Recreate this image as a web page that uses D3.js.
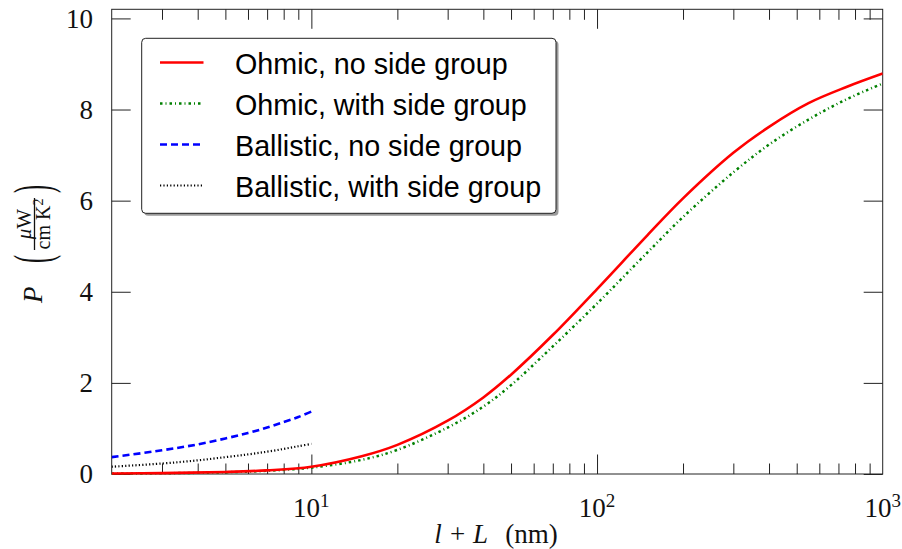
<!DOCTYPE html>
<html>
<head>
<meta charset="utf-8">
<script src="https://cdn.jsdelivr.net/npm/d3@7"></script>
<style>
  body { margin: 0; background: #fff; }
  svg { display: block; }
</style>
</head>
<body>
<svg id="chart" width="902" height="549"></svg>
<script>
// Power factor P versus total length l + L (nm)
const lengthOhmic = [2, 3, 5, 7, 10, 15, 20, 30, 40, 50, 70, 100, 150, 200, 300, 400, 550, 750, 1000];
const ohmicNoSide = [0.01, 0.02, 0.045, 0.08, 0.16, 0.39, 0.64, 1.17, 1.68, 2.18, 3.05, 4.06, 5.24, 6.05, 7.05, 7.62, 8.14, 8.5, 8.79];
const ohmicSide   = [0.008, 0.016, 0.038, 0.07, 0.14, 0.31, 0.53, 1.02, 1.48, 1.95, 2.8, 3.74, 4.86, 5.64, 6.62, 7.23, 7.78, 8.23, 8.57];

const lengthBallistic = [2, 3, 4, 5, 6, 7, 8, 9, 10];
const ballisticNoSide = [0.37, 0.52, 0.65, 0.78, 0.90, 1.02, 1.14, 1.25, 1.37];
const ballisticSide   = [0.16, 0.23, 0.30, 0.37, 0.43, 0.49, 0.55, 0.61, 0.66];

const seriesNames = ["Ohmic, no side group", "Ohmic, with side group",
                     "Ballistic, no side group", "Ballistic, with side group"];

const yTickValues = [0, 2, 4, 6, 8, 10];
const xMajorTicks = [10, 100, 1000];
const xMajorExponents = ["1", "2", "3"];
const xMinorTicks = [3, 4, 5, 6, 7, 8, 9, 20, 30, 40, 50, 60, 70, 80, 90,
                     200, 300, 400, 500, 600, 700, 800, 900];

// layout
const plot = { left: 111.7, right: 882.7, top: 9.3, bottom: 474 };
const serif = "'Liberation Serif', 'DejaVu Serif', serif";
const sans = "'Liberation Sans', Arial, sans-serif";

const svg = d3.select("#chart");

const x = d3.scaleLog().domain([2, 1000]).range([plot.left, plot.right]);
const y = d3.scaleLinear().domain([0, 10.2]).range([plot.bottom, plot.top]);

// series definitions with their line styles
const series = [
  { name: seriesNames[0], xs: lengthOhmic, ys: ohmicNoSide, color: "#ff0000", width: 2.6, dash: null },
  { name: seriesNames[1], xs: lengthOhmic, ys: ohmicSide, color: "#008000", width: 2.5, dash: "2.5,3,1,3" },
  { name: seriesNames[2], xs: lengthBallistic, ys: ballisticNoSide, color: "#0000ff", width: 2.6, dash: "7,4" },
  { name: seriesNames[3], xs: lengthBallistic, ys: ballisticSide, color: "#000000", width: 2.2, dash: "1.2,2.2" }
];

// axes: ticks point inward on all four sides
const axisColor = "#222";
function styleAxis(g) {
  g.select(".domain").remove();
  g.selectAll(".tick line").attr("stroke", axisColor).attr("stroke-width", 1);
  g.selectAll(".tick text").remove();
}

svg.append("g").attr("transform", `translate(0,${plot.bottom})`)
  .call(d3.axisBottom(x).tickValues(xMinorTicks).tickSize(-10.5)).call(styleAxis);
svg.append("g").attr("transform", `translate(0,${plot.bottom})`)
  .call(d3.axisBottom(x).tickValues(xMajorTicks.slice(0, 2)).tickSize(-19.5)).call(styleAxis);
svg.append("g").attr("transform", `translate(0,${plot.top})`)
  .call(d3.axisTop(x).tickValues(xMinorTicks).tickSize(-10.5)).call(styleAxis);
svg.append("g").attr("transform", `translate(0,${plot.top})`)
  .call(d3.axisTop(x).tickValues(xMajorTicks.slice(0, 2)).tickSize(-19.5)).call(styleAxis);
svg.append("g").attr("transform", `translate(${plot.left},0)`)
  .call(d3.axisLeft(y).tickValues(yTickValues).tickSize(-19)).call(styleAxis);
svg.append("g").attr("transform", `translate(${plot.right},0)`)
  .call(d3.axisRight(y).tickValues(yTickValues).tickSize(-19)).call(styleAxis);

// frame
svg.append("rect")
  .attr("x", plot.left).attr("y", plot.top)
  .attr("width", plot.right - plot.left).attr("height", plot.bottom - plot.top)
  .attr("fill", "none").attr("stroke", axisColor).attr("stroke-width", 1);

// y tick labels
svg.append("g").selectAll("text").data(yTickValues).join("text")
  .attr("x", 93).attr("y", d => y(d) + 9.3)
  .attr("text-anchor", "end")
  .attr("font-family", serif).attr("font-size", 27).attr("fill", "#111")
  .text(d => d);

// x tick labels as powers of ten
const xl = svg.append("g").selectAll("text").data(xMajorTicks).join("text")
  .attr("x", d => x(d)).attr("y", 517)
  .attr("text-anchor", "middle")
  .attr("font-family", serif).attr("font-size", 27).attr("fill", "#111");
xl.append("tspan").text("10");
xl.append("tspan").attr("font-size", 19).attr("dy", -10).text((d, i) => xMajorExponents[i]);

// curves
const line = d3.line().curve(d3.curveCatmullRom.alpha(0.5));
svg.append("clipPath").attr("id", "plot-clip").append("rect")
  .attr("x", plot.left).attr("y", plot.top)
  .attr("width", plot.right - plot.left).attr("height", plot.bottom - plot.top + 2);

svg.append("g").attr("clip-path", "url(#plot-clip)")
  .selectAll("path").data(series.slice().reverse()).join("path")
  .attr("d", s => line(s.xs.map((v, i) => [x(v), y(s.ys[i])])))
  .attr("fill", "none")
  .attr("stroke", s => s.color)
  .attr("stroke-width", s => s.width)
  .attr("stroke-dasharray", s => s.dash);

// legend
const legend = { x: 141.7, y: 38.3, w: 414.3, h: 175, r: 4 };
svg.append("rect")
  .attr("x", legend.x + 2.5).attr("y", legend.y + 2.5)
  .attr("width", legend.w).attr("height", legend.h).attr("rx", legend.r)
  .attr("fill", "#9a9a9a");
svg.append("rect")
  .attr("x", legend.x).attr("y", legend.y)
  .attr("width", legend.w).attr("height", legend.h).attr("rx", legend.r)
  .attr("fill", "#fff").attr("stroke", "#222").attr("stroke-width", 1);

const rowBaselines = [73.5, 114.5, 155.5, 196.5];
const rows = svg.append("g").selectAll("g").data(series).join("g")
  .attr("transform", (d, i) => `translate(0,${rowBaselines[i]})`);
rows.append("line")
  .attr("x1", 160).attr("x2", 203.5).attr("y1", -11).attr("y2", -11)
  .attr("stroke", s => s.color)
  .attr("stroke-width", s => s.width)
  .attr("stroke-dasharray", s => s.dash);
rows.append("text")
  .attr("x", 235).attr("y", 0)
  .attr("font-family", sans).attr("font-size", 28.7).attr("fill", "#000")
  .text(s => s.name);

// x axis title: l + L (nm)
const xt = svg.append("text")
  .attr("x", 496).attr("y", 543)
  .attr("text-anchor", "middle")
  .attr("font-family", serif).attr("font-size", 27).attr("fill", "#111");
xt.append("tspan").attr("font-style", "italic").text("l");
xt.append("tspan").attr("dx", 8).text("+");
xt.append("tspan").attr("dx", 8).attr("font-style", "italic").text("L");
xt.append("tspan").attr("dx", 17).text("(nm)");

// y axis title: P (μW / cm K²), rotated
const yt = svg.append("g").attr("transform", "translate(36,240) rotate(-90)")
  .attr("font-family", serif).attr("fill", "#111");
yt.append("text").attr("x", -63).attr("y", 6)
  .attr("font-size", 27).attr("font-style", "italic").text("P");
yt.append("text").attr("transform", "translate(-23,0) scale(1,2.2)")
  .attr("y", 6.2).attr("font-size", 24).text("(");
yt.append("text").attr("transform", "translate(47,0) scale(1,2.2)")
  .attr("y", 6.2).attr("font-size", 24).text(")");
yt.append("line").attr("x1", -10).attr("x2", 42).attr("y1", -1.5).attr("y2", -1.5)
  .attr("stroke", "#111").attr("stroke-width", 1.3);
const num = yt.append("text").attr("x", 16).attr("y", -5.5)
  .attr("text-anchor", "middle").attr("font-size", 21);
num.append("tspan").attr("font-style", "italic").text("μ");
num.append("tspan").text("W");
const den = yt.append("text").attr("x", 16).attr("y", 14)
  .attr("text-anchor", "middle").attr("font-size", 20);
den.append("tspan").text("cm K");
den.append("tspan").attr("font-size", 14).attr("dy", -7).text("2");
</script>
</body>
</html>
